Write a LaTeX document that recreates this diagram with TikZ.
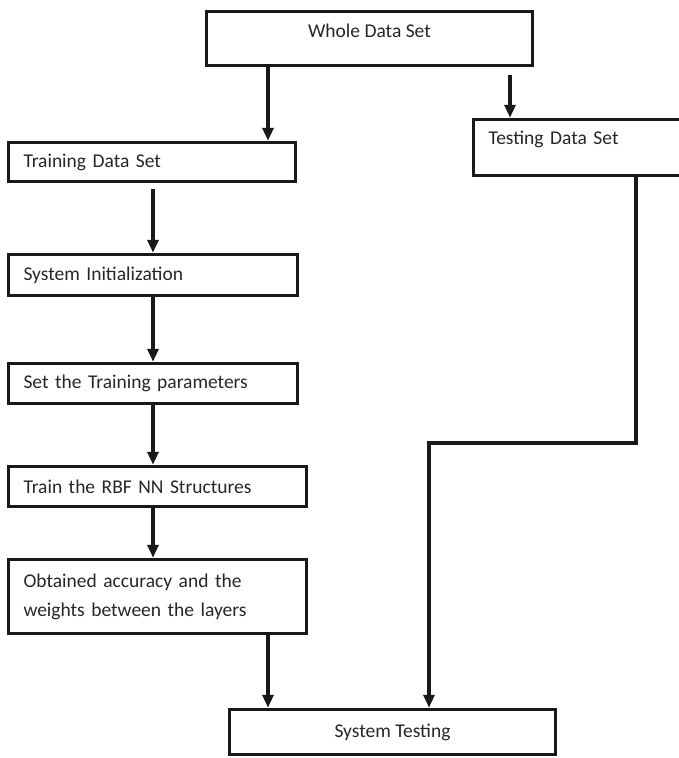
\documentclass[tikz,border=0pt]{standalone}
\usepackage{fontspec}
\setmainfont{Carlito}
\usetikzlibrary{arrows.meta}

\begin{document}
\begin{tikzpicture}[
    x=1pt, y=-1pt,
    box/.style={rectangle, draw=black!90, line width=3.5pt, inner xsep=15pt, inner ysep=3pt,
                font=\fontsize{19.5}{29}\selectfont, text=black!85, align=left},
    flow/.style={-{Triangle[length=13pt,width=11pt]}, line width=3.5pt, draw=black!90}
]

\useasboundingbox (0,0) rectangle (679,758);
\clip (0,0) rectangle (679,758);

\node[box, minimum width=326pt, minimum height=54pt, align=center, text depth=16pt] (whole) at (369.5,38.5) {Whole Data Set};
\node[box, text width=196.5pt, minimum height=56pt, text depth=19pt] (testing) at (586.75,147.5) {Testing Data Set};

\node[box, text width=257pt, minimum height=39pt] (training) at (152,162) {Training Data Set};
\node[box, text width=259pt, minimum height=41pt] (init) at (153,275) {System Initialization};
\node[box, text width=259pt, minimum height=40pt] (params) at (153,383.5) {Set the Training parameters};
\node[box, text width=268pt, minimum height=40pt] (rbf) at (157.5,486.5) {Train the RBF NN Structures};
\node[box, text width=268pt, minimum height=74pt] (obtained) at (157.5,596.5) {Obtained accuracy and the\\weights between the layers};

\node[box, minimum width=326pt, minimum height=45pt, align=center] (systest) at (392.5,732) {System Testing};

% split of the data
\draw[flow] ([xshift=-101.5pt]whole.south) -- ([xshift=116pt]training.north);
\draw[flow] ([xshift=140.5pt, yshift=-8pt]whole.south) -- ([xshift=-76.75pt]testing.north);

% training chain
\draw[flow] ([xshift=1pt, yshift=-6pt]training.south) -- (init.north);
\draw[flow] (init.south) -- (params.north);
\draw[flow] (params.south) -- ([xshift=-4.5pt]rbf.north);
\draw[flow] ([xshift=-4.5pt]rbf.south) -- ([xshift=-4.5pt]obtained.north);
\draw[flow] ([xshift=110.5pt]obtained.south) -- ([xshift=-124.5pt]systest.north);

% testing branch
\coordinate (turn) at (429,443);
\draw[flow] ([xshift=49.25pt]testing.south) |- (turn) -- ([xshift=36.5pt]systest.north);

\end{tikzpicture}
\end{document}
